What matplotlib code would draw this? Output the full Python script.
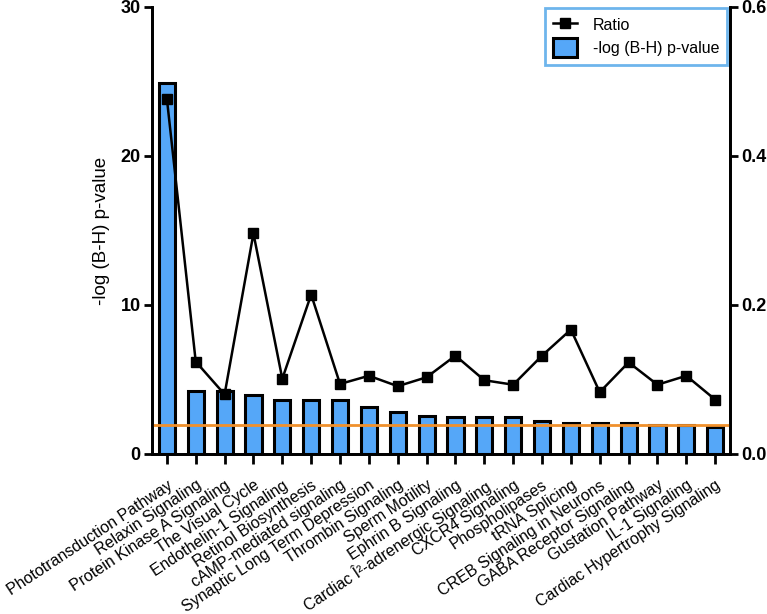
import matplotlib
matplotlib.use("Agg")
from matplotlib import pyplot as plt
import numpy as np

plt.rcParams["font.family"] = ["Liberation Sans", "DejaVu Sans"]

pathways = [
    "Phototransduction Pathway",
    "Relaxin Signaling",
    "Protein Kinase A Signaling",
    "The Visual Cycle",
    "Endothelin-1 Signaling",
    "Retinol Biosynthesis",
    "cAMP-mediated signaling",
    "Synaptic Long Term Depression",
    "Thrombin Signaling",
    "Sperm Motility",
    "Ephrin B Signaling",
    "Cardiac Î²-adrenergic Signaling",
    "CXCR4 Signaling",
    "Phospholipases",
    "tRNA Splicing",
    "CREB Signaling in Neurons",
    "GABA Receptor Signaling",
    "Gustation Pathway",
    "IL-1 Signaling",
    "Cardiac Hypertrophy Signaling",
]
neg_log_p = [24.9, 4.25, 4.25, 3.95, 3.65, 3.65, 3.65, 3.15, 2.85, 2.55,
             2.45, 2.45, 2.45, 2.2, 2.1, 2.05, 2.05, 1.95, 1.95, 1.8]
ratio = [0.477, 0.124, 0.080, 0.296, 0.101, 0.214, 0.094, 0.105, 0.091, 0.103,
         0.132, 0.099, 0.093, 0.132, 0.167, 0.083, 0.123, 0.093, 0.105, 0.073]
threshold = 1.93

bar_color = "#55a7f8"
orange = "#f0902c"

fig = plt.figure(figsize=(7.67, 6.14), dpi=100)
ax = fig.add_axes([0.198, 0.2606, 0.754, 0.728])
ax2 = ax.twinx()

x = np.arange(len(pathways))
bars = ax.bar(x, neg_log_p, width=0.56, color=bar_color, edgecolor="black",
              linewidth=2.2, label="-log (B-H) p-value")
ax2.axhline(threshold / 50, color=orange, linewidth=2, zorder=1)
line, = ax2.plot(x, ratio, color="black", linewidth=1.8, marker="s",
                 markersize=7, label="Ratio", zorder=3)

ax.set_xlim(-0.52, len(pathways) - 0.48)
ax.set_ylim(0, 30)
ax2.set_ylim(0, 0.6)
ax.set_yticks([0, 10, 20, 30])
ax2.set_yticks([0.0, 0.2, 0.4, 0.6])
ax2.set_yticklabels(["0.0", "0.2", "0.4", "0.6"])
ax.set_xticks(x)
ax.set_xticklabels(pathways, rotation=33.5, ha="right", rotation_mode="anchor",
                   fontsize=11.5)
ax.set_ylabel("-log (B-H) p-value", fontsize=13.5, labelpad=8)

for a in (ax, ax2):
    a.spines["top"].set_visible(False)
    for s in ("left", "right", "bottom"):
        a.spines[s].set_linewidth(2)
    a.tick_params(width=2, length=6, pad=2)
ax.tick_params(axis="x", length=7, pad=10)
for lab in ax.get_yticklabels() + ax2.get_yticklabels():
    lab.set_fontweight("bold")
    lab.set_fontsize(13)

leg = ax2.legend(handles=[line, bars], loc="upper right",
                 bbox_to_anchor=(0.995, 0.998), fontsize=11.5, frameon=True,
                 fancybox=False, borderpad=0.5, handlelength=1.5,
                 handleheight=1.4, labelspacing=0.25, handletextpad=1.0,
                 borderaxespad=0.0)
leg.get_frame().set_edgecolor("#4aa3e8")
leg.get_frame().set_linewidth(2)

fig.savefig("out.png", dpi=100)
